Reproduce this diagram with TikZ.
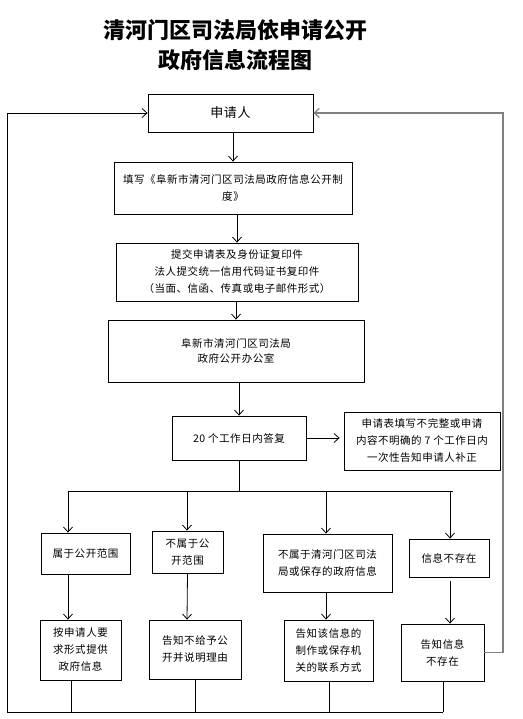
\documentclass[tikz,border=0pt]{standalone}
\usepackage{fontspec}
\newfontfamily\cjk[LetterSpace=5]{Noto Sans CJK SC}
\newfontfamily\cjktitle{Noto Sans CJK SC}
\usetikzlibrary{arrows.meta}
\usetikzlibrary{positioning}

\begin{document}
\begin{tikzpicture}[x=1pt, y=-1pt, line width=0.8pt,
  font=\cjk\fontsize{10.5}{17}\selectfont,
  >={Straight Barb[length=5pt,width=9pt]},
  box/.style={draw, align=center, inner sep=0pt},
  flow/.style={->}]

\useasboundingbox (0,0) rectangle (522,719);

\node[font=\cjktitle\bfseries\fontsize{22}{30}\selectfont, align=center] (title) at (235,45) {清河门区司法局依申请公开\\政府信息流程图};

% main column
\node[box, minimum width=165, minimum height=38, font=\cjk\fontsize{13}{17}\selectfont] (applicant) at (230.5,113) {申请人};
\node[box, minimum width=238, minimum height=52] (fill) at (233,188) {填写《阜新市清河门区司法局政府信息公开制\\度》};
\node[box, minimum width=242, minimum height=58] (submit) at (237,272) {提交申请表及身份证复印件\\法人提交统一信用代码证书复印件\\（当面、信函、传真或电子邮件形式）};
\node[box, minimum width=256, minimum height=62, font=\cjk\fontsize{10.5}{15}\selectfont] (office) at (236,351) {阜新市清河门区司法局\\政府公开办公室};
\node[box, minimum width=134, minimum height=44] (reply) at (239,438) {20 个工作日内答复};
\node[box, minimum width=156, minimum height=58] (supp) at (422,441) {申请表填写不完整或申请\\内容不明确的 7 个工作日内\\一次性告知申请人补正};

% branches
\node[box, minimum width=89, minimum height=41] (a1) at (85.5,553.5) {属于公开范围};
\node[box, minimum width=71, minimum height=42] (b1) at (187.5,552) {不属于公\\开范围};
\node[box, minimum width=129, minimum height=58] (c1) at (327.5,563) {不属于清河门区司法\\局或保存的政府信息};
\node[box, minimum width=80, minimum height=38] (d1) at (449,558) {信息不存在};

\node[box, minimum width=81, minimum height=60] (a2) at (80.5,650) {按申请人要\\求形式提供\\政府信息};
\node[box, minimum width=92, minimum height=59] (b2) at (195,649.5) {告知不给予公\\开并说明理由};
\node[box, minimum width=89, minimum height=61] (c2) at (328.5,650.5) {告知该信息的\\制作或保存机\\关的联系方式};
\node[box, minimum width=83, minimum height=57] (d2) at (442.5,652.5) {告知信息\\不存在};

\coordinate (split) at (239,491);
\coordinate (barL) at (68,491);
\coordinate (barR) at (453,491);
\coordinate (tA) at (68,491);
\coordinate (tB) at (187,491);
\coordinate (tC) at (326,491);
\coordinate (tD) at (450,491);
\coordinate (bA) at (71,712);
\coordinate (bB) at (195,712);
\coordinate (bC) at (329,712);
\coordinate (bD) at (443,712);
\coordinate (cornerBL) at (7.5,712);
\coordinate (rLoop) at (503,652.5);

\draw[flow] (applicant.south -| fill.north) -- (fill.north);
\draw[flow] (fill.south -| submit.north) -- (submit.north);
\draw[flow] (submit.south -| office.north) -- (office.north);
\draw[flow] (office.south -| reply.north) -- (reply.north);
\draw[flow, shorten >=4pt] (reply.east) -- (reply.east -| supp.west);
\draw (reply.south) -- (split);
\draw (barL) -- (barR);

\draw[flow] (tA) -- (tA |- a1.north);
\draw[flow] (tB) -- (tB |- b1.north);
\draw[flow] (tC) -- (tC |- c1.north);
\draw[flow] (tD) -- (tD |- d1.north);

\draw[flow] (tA |- a1.south) -- (tA |- a2.north);
\draw[flow] (b1.south) -- (b2.north -| tB);
\draw[flow] (tC |- c1.south) -- (tC |- c2.north);
\draw[flow, shorten <=4pt] (tD |- d1.south) -- (tD |- d2.north);

% back to the applicant
\draw (bA |- a2.south) -- (bA);
\draw (bB |- b2.south) -- (bB);
\draw (bC |- c2.south) -- (bC);
\draw (bD |- d2.south) -- (bD);
\draw[flow] (bD) -- (cornerBL) |- (applicant.west);
\draw[flow, gray, line width=1.2pt] (d2.east) -- (rLoop) |- (applicant.east);

\end{tikzpicture}
\end{document}
